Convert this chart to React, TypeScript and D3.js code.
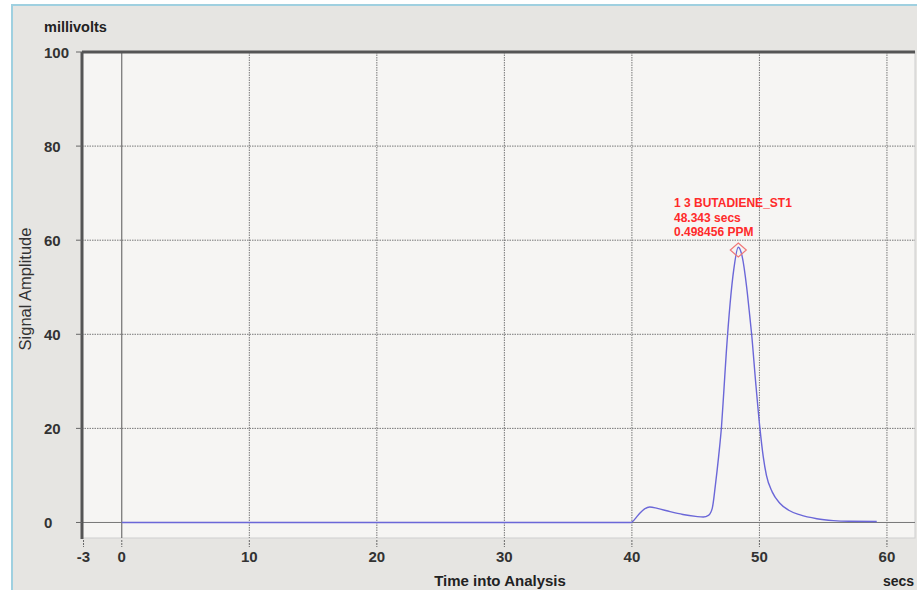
import { useEffect, useRef } from "react";
import * as d3 from "d3";

const WIDTH = 917;
const HEIGHT = 590;

// chromatogram trace: seconds / millivolts
const times = [
  0, 39.9, 40.0, 40.5, 41.0, 41.4, 42.0, 43.0, 44.0, 45.0, 45.6, 46.0, 46.3,
  46.55, 46.8, 47.03, 47.2, 47.4, 47.7, 48.0, 48.34, 48.65, 49.0, 49.2, 49.39,
  49.7, 50.04, 50.3, 50.55, 51.0, 51.6, 52.3, 53.2, 54.5, 55.8, 57.0, 59.2,
];
const signal = [
  0, 0, 0.1, 1.6, 2.9, 3.3, 3.0, 2.3, 1.7, 1.3, 1.15, 1.5, 3.0, 8.0, 14.0,
  20.5, 27.5, 36.0, 46.5, 54.0, 58.5, 56.5, 50.0, 45.0, 40.0, 30.0, 20.0, 14.0,
  10.0, 6.5, 4.1, 2.6, 1.6, 0.8, 0.4, 0.25, 0.2,
];

const xTicks = [-3, 0, 10, 20, 30, 40, 50, 60];
const xGrid = [10, 20, 30, 40, 50, 60];
const yTicks = [0, 20, 40, 60, 80, 100];
const yGrid = [20, 40, 60, 80];

const peakLabel = ["1 3 BUTADIENE_ST1", "48.343 secs", "0.498456 PPM"];
const peakTime = 48.343;
const peakValue = 57.9;

const PLOT = { left: 82, right: 915, top: 52, bottom: 538 };
const FONT = "'Liberation Sans', Arial, sans-serif";

export default function App() {
  const axesRef = useRef<SVGGElement>(null);

  const xScale = d3
    .scaleLinear()
    .domain([-3.12, 62.2])
    .range([PLOT.left, PLOT.right]);
  const yScale = d3
    .scaleLinear()
    .domain([-3.3, 100])
    .range([PLOT.bottom, PLOT.top]);

  const points = times.map((t, i) => [t, signal[i]] as [number, number]);
  const linePath = d3
    .line<[number, number]>()
    .x((d) => xScale(d[0]))
    .y((d) => yScale(d[1]))
    .curve(d3.curveMonotoneX)(points);

  useEffect(() => {
    const g = d3.select(axesRef.current);
    g.selectAll("*").remove();

    // y tick labels are left aligned in the original
    yTicks.forEach((v) => {
      g.append("line")
        .attr("x1", PLOT.left - 6)
        .attr("x2", PLOT.left)
        .attr("y1", yScale(v))
        .attr("y2", yScale(v))
        .attr("stroke", "#666");
      g.append("text")
        .attr("x", 44)
        .attr("y", yScale(v) + 5.5)
        .attr("font-family", FONT)
        .attr("font-weight", "bold")
        .attr("font-size", 15)
        .attr("fill", "#333")
        .text(v);
    });

    xTicks.forEach((v) => {
      g.append("line")
        .attr("x1", xScale(v))
        .attr("x2", xScale(v))
        .attr("y1", PLOT.bottom + 2)
        .attr("y2", PLOT.bottom + 9)
        .attr("stroke", "#666")
        .attr("stroke-dasharray", "2,1");
      g.append("text")
        .attr("x", xScale(v))
        .attr("y", 562)
        .attr("text-anchor", "middle")
        .attr("font-family", FONT)
        .attr("font-weight", "bold")
        .attr("font-size", 15)
        .attr("fill", "#333")
        .text(v);
    });
  }, []);

  const px = xScale(peakTime);
  const py = yScale(peakValue);

  return (
    <svg
      width={WIDTH}
      height={HEIGHT}
      style={{ position: "absolute", left: 0, top: 0 }}
    >
      <rect width={WIDTH} height={HEIGHT} fill="#ffffff" />
      <rect x={12} y={5} width={WIDTH} height={HEIGHT} fill="#e6e5e2" stroke="#9fd0e0" strokeWidth={2} />

      <text x={44} y={32} fontFamily={FONT} fontWeight="bold" fontSize={14.5} fill="#222">
        millivolts
      </text>

      <rect
        x={PLOT.left}
        y={PLOT.top}
        width={PLOT.right - PLOT.left}
        height={PLOT.bottom - PLOT.top}
        fill="#f6f5f3"
        stroke="#cfcfcf"
      />

      {xGrid.map((v) => (
        <line
          key={"gx" + v}
          x1={xScale(v)}
          x2={xScale(v)}
          y1={PLOT.top}
          y2={PLOT.bottom}
          stroke="#777"
          strokeDasharray="1.5,1"
        />
      ))}
      {yGrid.map((v) => (
        <line
          key={"gy" + v}
          x1={PLOT.left}
          x2={PLOT.right}
          y1={yScale(v)}
          y2={yScale(v)}
          stroke="#777"
          strokeDasharray="1.5,1"
        />
      ))}

      <line x1={xScale(0)} x2={xScale(0)} y1={PLOT.top} y2={PLOT.bottom} stroke="#555" />
      <line x1={PLOT.left} x2={PLOT.right} y1={yScale(0)} y2={yScale(0)} stroke="#777" />

      <path d={linePath || ""} fill="none" stroke="#6b67d8" strokeWidth={1.4} />

      <line x1={PLOT.left} x2={PLOT.right} y1={PLOT.top} y2={PLOT.top} stroke="#555" strokeWidth={3} />
      <line x1={PLOT.left} x2={PLOT.left} y1={PLOT.top} y2={PLOT.bottom + 1} stroke="#555" strokeWidth={3} />

      <path
        d={`M${px},${py - 7}L${px + 8},${py}L${px},${py + 7}L${px - 8},${py}Z`}
        fill="none"
        stroke="#f07878"
        strokeWidth={1.2}
      />
      {peakLabel.map((s, i) => (
        <text
          key={s}
          x={674}
          y={207 + i * 14.7}
          fontFamily={FONT}
          fontWeight="bold"
          fontSize={12}
          fill="#ff2a2a"
        >
          {s}
        </text>
      ))}

      <g ref={axesRef} />

      <text
        transform="translate(31,289) rotate(-90)"
        textAnchor="middle"
        fontFamily={FONT}
        fontSize={16.5}
        fill="#333"
      >
        Signal Amplitude
      </text>
      <text x={500} y={586} textAnchor="middle" fontFamily={FONT} fontWeight="bold" fontSize={15} fill="#222">
        Time into Analysis
      </text>
      <text x={883} y={586} fontFamily={FONT} fontWeight="bold" fontSize={14} fill="#222">
        secs
      </text>
    </svg>
  );
}
